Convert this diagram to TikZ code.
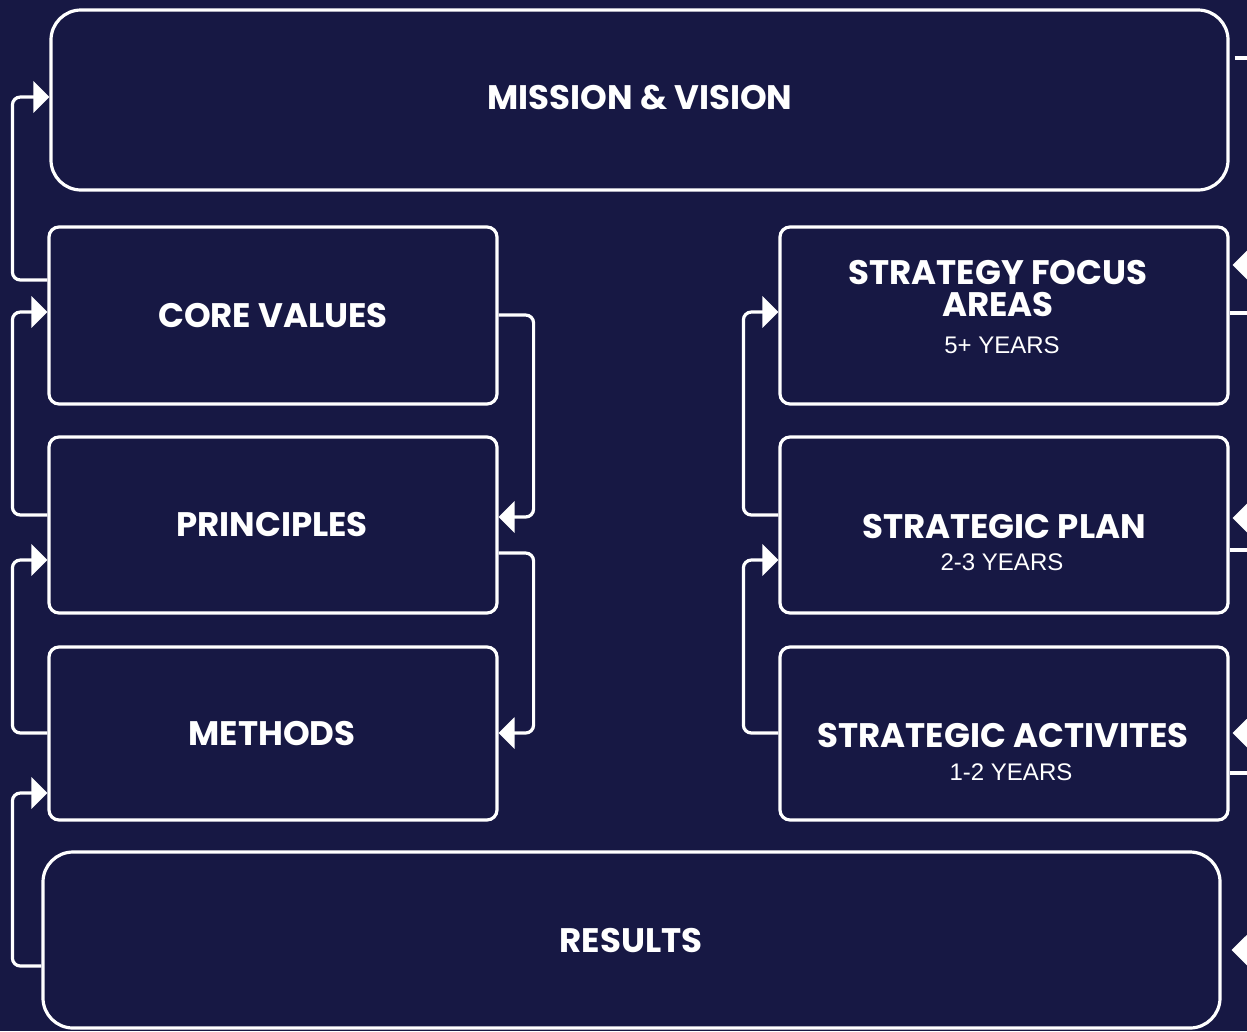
\documentclass[tikz,border=0pt]{standalone}
\usepackage{fontspec}
\setmainfont{Poppins}
\newfontfamily\subfont{Liberation Sans}
\usetikzlibrary{arrows.meta}
\definecolor{navy}{RGB}{23,24,68}
\tikzset{
  box/.style={draw=white,line width=3.2pt,rounded corners=10pt,fill=navy,inner sep=0pt},
  bigbox/.style={box,rounded corners=30pt,minimum width=1177pt},
  smallbox/.style={box,minimum width=448pt,minimum height=176pt},
  head/.style={text=white,font=\bfseries\fontsize{34}{32}\selectfont,inner sep=0pt,align=center},
  sub/.style={text=white,font=\subfont\fontsize{24}{24}\selectfont,inner sep=0pt},
  link/.style={draw=white,line width=3.2pt,rounded corners=8pt,-{Triangle[length=16pt,width=31pt]}},
  stub/.style={draw=white,line width=3.2pt},
}
\begin{document}
\begin{tikzpicture}[x=1pt,y=-1pt]
  \fill[navy] (0,0) rectangle (1247,1031);
  \useasboundingbox (0,0) rectangle (1247,1031);
  % boxes
  \node[bigbox,minimum height=180pt] (mv) at (639.5,100) {};
  \node[smallbox,minimum height=177pt] (cv) at (273,315.5) {};
  \node[smallbox] (pr) at (273,525) {};
  \node[smallbox,minimum height=173pt] (me) at (273,733.5) {};
  \node[smallbox,minimum height=177pt] (sf) at (1004,315.5) {};
  \node[smallbox] (sp) at (1004,525) {};
  \node[smallbox,minimum height=173pt] (sa) at (1004,733.5) {};
  \node[bigbox,minimum height=176pt] (res) at (631.5,940) {};
  % texts
  \node[head] (mvT) at (640,98) {MISSION \& VISION};
  \node[head] (cvT) at (273,316) {CORE VALUES};
  \node[head] (prT) at (272,525) {PRINCIPLES};
  \node[head] (meT) at (272,734) {METHODS};
  \node[head] (sfT) at (998,289) {STRATEGY FOCUS\\AREAS};
  \node[sub] (sfS) at (1002,345) {5+ YEARS};
  \node[head] (spT) at (1004,527) {STRATEGIC PLAN};
  \node[sub] (spS) at (1002,562) {2-3 YEARS};
  \node[head] (saT) at (1003,736) {STRATEGIC ACTIVITES};
  \node[sub] (saS) at (1011,772) {1-2 YEARS};
  \node[head] (resT) at (631,940) {RESULTS};
  % left column, outer side
  \draw[link] (cv.west |- 0,280) -- ++(-35,0) |- (mv.west |- 0,97);
  \draw[link] (pr.west |- 0,515) -- ++(-35,0) |- (cv.west |- 0,312);
  \draw[link] (me.west |- 0,733) -- ++(-35,0) |- (pr.west |- 0,560);
  \draw[link] (res.west |- 0,966) -- ++(-29,0) |- (me.west |- 0,793);
  % left column, inner side
  \draw[link] (cv.east |- 0,315) -- ++(35,0) |- (pr.east |- 0,517);
  \draw[link] (pr.east |- 0,553) -- ++(35,0) |- (me.east |- 0,733);
  % right column
  \draw[link] (sp.west |- 0,515) -- ++(-35,0) |- (sf.west |- 0,312);
  \draw[link] (sa.west |- 0,733) -- ++(-35,0) |- (sp.west |- 0,560);
  % right edge
  \coordinate (mvOut) at (1260,58);
  \coordinate (sfIn) at (1263,265);
  \coordinate (sfOut) at (1260,313);
  \coordinate (spIn) at (1263,518);
  \coordinate (spOut) at (1260,550);
  \coordinate (saIn) at (1263,733);
  \coordinate (saOut) at (1260,773);
  \coordinate (resIn) at (1263,950);
  \draw[stub] ([xshift=5pt]mv.east |- mvOut) -- (mvOut);
  \draw[link,shorten >=3pt] (sfIn) -- (sf.east |- sfIn);
  \draw[stub] (sf.east |- sfOut) -- (sfOut);
  \draw[link,shorten >=3pt] (spIn) -- (sp.east |- spIn);
  \draw[stub] (sp.east |- spOut) -- (spOut);
  \draw[link,shorten >=3pt] (saIn) -- (sa.east |- saIn);
  \draw[stub] (sa.east |- saOut) -- (saOut);
  \draw[link,shorten >=10pt] (resIn) -- (res.east |- resIn);
\end{tikzpicture}
\end{document}
